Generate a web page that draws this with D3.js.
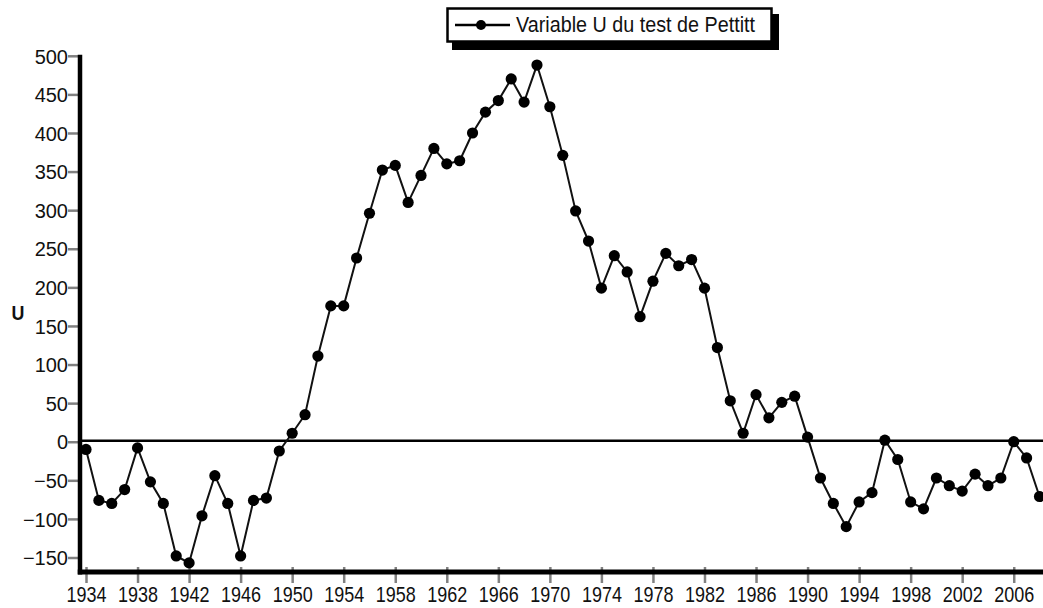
<!DOCTYPE html>
<html>
<head>
<meta charset="utf-8">
<script src="https://cdn.jsdelivr.net/npm/d3@7"></script>
<style>
  html, body { margin: 0; padding: 0; background: #fff; }
  svg { display: block; }
  text { font-family: "Liberation Sans", Arial, sans-serif; fill: #111; }
</style>
</head>
<body>
<svg id="chart" width="1043" height="608"></svg>
<script>
// ---- Data ----
const years = d3.range(1934, 2009);
const uValues = [
  -10, -76, -80, -62, -8, -52, -80, -148, -157, -96,
  -44, -80, -148, -76, -73, -12, 11, 35, 111, 176,
  176, 238, 296, 352, 358, 310, 345, 380, 360, 364,
  400, 427, 442, 470, 440, 488, 434, 371, 299, 260,
  199, 241, 220, 162, 208, 244, 228, 236, 199, 122,
  53, 11, 61, 31, 51, 59, 6, -47, -80, -110,
  -78, -66, 2, -23, -78, -87, -47, -57, -64, -42,
  -57, -47, 0, -21, -71
];
const xTicks = d3.range(1934, 2007, 4);
const yTicks = [-150, -100, -50, 0, 50, 100, 150, 200, 250, 300, 350, 400, 450, 500];
const legendLabel = "Variable U du test de Pettitt";
const yLabel = "U";

const data = years.map((y, i) => ({ year: y, u: uValues[i] }));

// ---- Scales ----
const svg = d3.select("#chart");
const x = d3.scaleLinear().domain([1934, 2008]).range([86, 1039.5]);
const y = d3.scaleLinear().domain([-150, 500]).range([557.5, 55.8]);

const axisX = 80;      // y-axis line position
const axisY = 572;     // x-axis line position
const rightEdge = 1043;

// ---- Y axis ----
const yAxis = d3.axisLeft(y).tickValues(yTicks).tickSize(10).tickPadding(2).tickFormat(d3.format("d"));
const gy = svg.append("g").attr("transform", `translate(${axisX - 2},0)`).call(yAxis);
gy.select(".domain").remove();
gy.selectAll(".tick line").attr("stroke", "#808080").attr("stroke-width", 2.5);
gy.selectAll(".tick text")
  .attr("font-size", 20)
  .attr("fill", "#111")
  .attr("x", -10)
  .attr("dy", "0.36em");

// ---- X axis ----
const xAxis = d3.axisBottom(x).tickValues(xTicks).tickSize(0).tickFormat(d3.format("d"));
const gx = svg.append("g").attr("transform", `translate(0,${axisY})`).call(xAxis);
gx.select(".domain").remove();
gx.selectAll(".tick line").remove();
gx.selectAll(".tick").append("line")
  .attr("y1", -5).attr("y2", 11)
  .attr("stroke", "#808080").attr("stroke-width", 2.5);
gx.selectAll(".tick text")
  .attr("font-size", 22)
  .attr("fill", "#111")
  .attr("y", 30)
  .attr("dy", 0)
  .attr("textLength", 40)
  .attr("lengthAdjust", "spacingAndGlyphs");

// axis lines (thick black)
svg.append("line")
  .attr("x1", axisX).attr("x2", axisX)
  .attr("y1", y(500) - 1).attr("y2", axisY + 2.5)
  .attr("stroke", "#000").attr("stroke-width", 4.5);
svg.append("line")
  .attr("x1", axisX - 2.25).attr("x2", rightEdge)
  .attr("y1", axisY).attr("y2", axisY)
  .attr("stroke", "#000").attr("stroke-width", 5);

// zero line
svg.append("line")
  .attr("x1", axisX).attr("x2", rightEdge)
  .attr("y1", y(0) - 1).attr("y2", y(0) - 1)
  .attr("stroke", "#000").attr("stroke-width", 2.5);

// y label
svg.append("text")
  .attr("x", 18).attr("y", 320)
  .attr("text-anchor", "middle")
  .attr("font-size", 21)
  .attr("font-weight", "bold")
  .attr("transform", "translate(18,0) scale(0.85,1) translate(-18,0)")
  .text(yLabel);

// ---- Series ----
const line = d3.line().x(d => x(d.year)).y(d => y(d.u));
svg.append("path")
  .datum(data)
  .attr("d", line)
  .attr("fill", "none")
  .attr("stroke", "#111")
  .attr("stroke-width", 2);

svg.append("g").selectAll("circle")
  .data(data)
  .join("circle")
  .attr("cx", d => x(d.year))
  .attr("cy", d => y(d.u))
  .attr("r", 5.6)
  .attr("fill", "#000");

// ---- Legend ----
const lg = svg.append("g");
lg.append("rect")
  .attr("x", 452).attr("y", 14).attr("width", 327).attr("height", 36)
  .attr("fill", "#000");
lg.append("rect")
  .attr("x", 447.5).attr("y", 8.5).attr("width", 324).attr("height", 33)
  .attr("fill", "#fff").attr("stroke", "#000").attr("stroke-width", 2.5);
lg.append("line")
  .attr("x1", 455).attr("x2", 510).attr("y1", 25).attr("y2", 25)
  .attr("stroke", "#000").attr("stroke-width", 2.5);
lg.append("circle")
  .attr("cx", 481).attr("cy", 25).attr("r", 5)
  .attr("fill", "#000");
lg.append("text")
  .attr("x", 516).attr("y", 32)
  .attr("font-size", 22)
  .attr("textLength", 239)
  .attr("lengthAdjust", "spacingAndGlyphs")
  .text(legendLabel);
</script>
</body>
</html>
